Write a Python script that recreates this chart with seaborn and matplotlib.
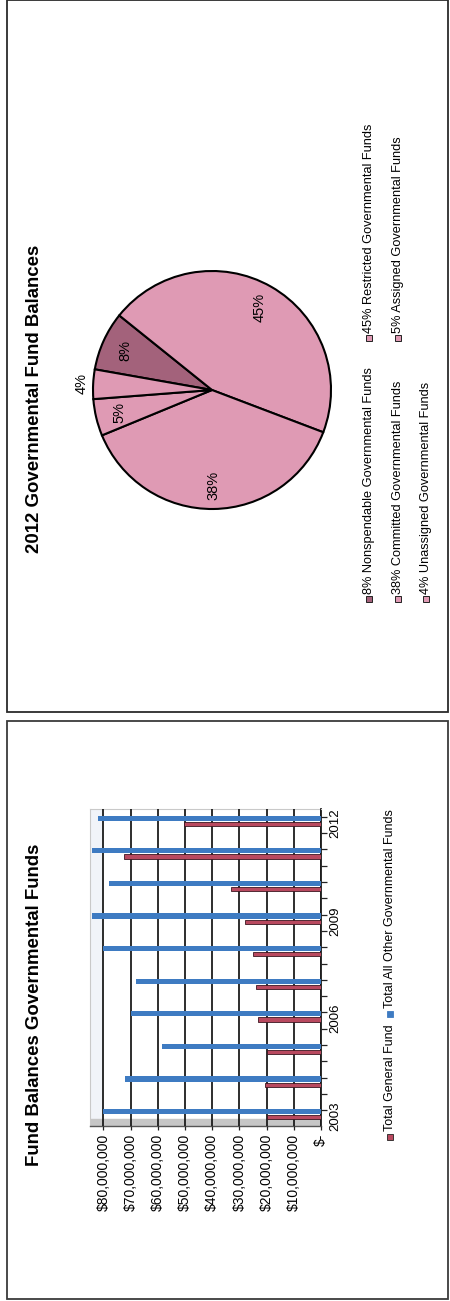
import numpy as np
import pandas as pd
import matplotlib
matplotlib.use("Agg")
import matplotlib.pyplot as plt
from matplotlib.patches import Rectangle
from matplotlib.ticker import FixedLocator, FixedFormatter
import seaborn as sns

# ---- data -------------------------------------------------------------
years = [2003, 2004, 2005, 2006, 2007, 2008, 2009, 2010, 2011, 2012]
general_fund = [20.0e6, 20.6e6, 20.0e6, 23.3e6, 24.0e6, 24.9e6, 27.9e6, 33.2e6, 72.3e6, 50.5e6]
other_funds = [80.0e6, 72.1e6, 58.3e6, 70.0e6, 68.1e6, 80.3e6, 84.3e6, 77.9e6, 84.3e6, 82.1e6]
series_names = ["Total General Fund", "Total All Other Governmental Funds"]
value_ticks = [0, 10e6, 20e6, 30e6, 40e6, 50e6, 60e6, 70e6, 80e6]
labelled_years = [2003, 2006, 2009, 2012]

pie_names = ["Nonspendable", "Restricted", "Committed", "Assigned", "Unassigned"]
pie_shares = [8, 45, 38, 5, 4]

bar_title = "Fund Balances Governmental Funds"
pie_title = "2012 Governmental Fund Balances"

# ---- style ------------------------------------------------------------
sns.set_theme(style="white")
plt.rcParams["font.family"] = ["Liberation Sans", "DejaVu Sans"]
plt.rcParams.update({"text.color": "black", "xtick.color": "black",
                     "ytick.color": "black", "axes.labelcolor": "black"})

RED = "#B9495F"
BLUE = "#3E7BC2"
PINK = "#DF9AB4"
MAUVE = "#A3627B"

W, H = 450, 1301
fig = plt.figure(figsize=(W / 100, H / 100), dpi=100)
fig.patch.set_facecolor("white")


def fx(px):
    return px / W


def fy(py):
    return (H - py) / H


# panel frames
fig.add_artist(Rectangle((fx(7), fy(712)), fx(441), 711.5 / H, transform=fig.transFigure,
                         fill=False, edgecolor="#2b2b2b", linewidth=1.3))
fig.add_artist(Rectangle((fx(7), fy(1299)), fx(441), 578 / H, transform=fig.transFigure,
                         fill=False, edgecolor="#3a3a3a", linewidth=1.3))

# ---- bar chart (reads bottom-to-top) ----------------------------------
df = pd.DataFrame({
    "year": [str(y) for y in years] * 2,
    "fund": [series_names[0]] * len(years) + [series_names[1]] * len(years),
    "value": general_fund + other_funds,
})
order_desc = [str(y) for y in years[::-1]]

ax = fig.add_axes([fx(90), fy(1126), fx(231), 317 / H])
sns.barplot(data=df, x="value", y="year", hue="fund", order=order_desc,
            hue_order=[series_names[1], series_names[0]],
            palette={series_names[0]: RED, series_names[1]: BLUE},
            orient="h", width=0.34, dodge=True, saturation=1, errorbar=None,
            legend=False, ax=ax, zorder=3)

# thinner general-fund bars with a dark rim
for p in ax.containers[1]:
    h = p.get_height()
    p.set_y(p.get_y() + (h - 0.13) / 2)
    p.set_height(0.13)
    p.set_edgecolor("#3b1620")
    p.set_linewidth(0.6)
for p in ax.containers[0]:
    h = p.get_height()
    p.set_y(p.get_y() + (h - 0.16) / 2)
    p.set_height(0.16)
    p.set_linewidth(0)

ax.set_xlim(84.9e6, 0)
ax.set_ylim(9.354, -0.370)
ax.set_xlabel("")
ax.set_ylabel("")

# wall edge and floor
ax.axvspan(84.9e6, 80.6e6, color="#F1F4F9", zorder=0)
ax.axhspan(9.354, 9.14, color="#C6C6C6", zorder=1)

ax.xaxis.grid(True, color="#1c1c1c", linewidth=1.3, zorder=2)
ax.yaxis.grid(False)
ax.set_axisbelow(False)

ax.xaxis.set_major_locator(FixedLocator(value_ticks))
ax.xaxis.set_major_formatter(FixedFormatter(
    ["$-" if v == 0 else "${:,.0f}".format(v) for v in value_ticks]))
ax.tick_params(axis="x", bottom=True, length=3, width=0.9, color="#222222",
               labelcolor="black", pad=2.5, labelsize=10, labelrotation=90)

ax.yaxis.tick_right()
label_pos = [2012 - y + 0.06 for y in labelled_years]
ax.yaxis.set_major_locator(FixedLocator(label_pos))
ax.yaxis.set_major_formatter(FixedFormatter([str(y) for y in labelled_years]))
minor_pos = [2012 - y - 0.13 for y in years] + [2012 - y + 0.37 for y in years]
ax.yaxis.set_minor_locator(FixedLocator(sorted(minor_pos)))
ax.tick_params(axis="y", which="major", right=True, left=False, length=0, pad=6,
               labelsize=9.5, labelrotation=90, labelcolor="black")
ax.tick_params(axis="y", which="minor", right=True, left=False, length=4,
               width=0.9, color="#222222")
for lab in ax.get_yticklabels():
    lab.set_verticalalignment("center")

for side in ("left", "top"):
    ax.spines[side].set_color("#C9C9C9")
    ax.spines[side].set_linewidth(0.8)
ax.spines["right"].set_color("#1a1a1a")
ax.spines["right"].set_linewidth(1.3)
ax.spines["bottom"].set_color("#555555")
ax.spines["bottom"].set_linewidth(1.0)

fig.text(fx(35), fy(1004.5), bar_title, rotation=90, ha="center", va="center",
         fontsize=13.4, fontweight="bold", color="black")

# legend for bar chart
for name, color, start in [(series_names[0], RED, 1137), (series_names[1], BLUE, 1013.5)]:
    fig.add_artist(Rectangle((fx(387), fy(start + 3)), fx(6), 6 / H,
                             transform=fig.transFigure, facecolor=color,
                             edgecolor="#222222" if color == RED else color,
                             linewidth=0.6))
    fig.text(fx(390), fy(start - 6), name, rotation=90, ha="center", va="bottom",
             fontsize=9, color="black")

# ---- pie chart ----------------------------------------------------------
pax = fig.add_axes([fx(93), fy(509), fx(238), 238 / H])
pie_colors = [MAUVE, PINK, PINK, PINK, PINK]
wedges, _ = pax.pie(pie_shares, startangle=170, counterclock=False, colors=pie_colors,
                    wedgeprops=dict(edgecolor="black", linewidth=1.5))
pax.set_xlim(-1, 1)
pax.set_ylim(-1, 1)
pax.set_aspect("equal")

for w, share in zip(wedges, pie_shares):
    mid = np.deg2rad((w.theta1 + w.theta2) / 2)
    r = 1.1 if share == min(pie_shares) else 0.8
    pax.text(r * np.cos(mid), r * np.sin(mid), f"{share}%", rotation=90,
             ha="center", va="center", fontsize=10.5, color="black")

fig.text(fx(35), fy(398.5), pie_title, rotation=90, ha="center", va="center",
         fontsize=13.4, fontweight="bold", color="black")

# legend for pie chart: two columns, three rows
legend_cells = [(369.3, 599), (369.3, 338), (397.7, 599), (397.7, 338), (425.7, 599)]
for (x, y), name, share, color in zip(legend_cells, pie_names, pie_shares, pie_colors):
    fig.add_artist(Rectangle((fx(x - 3), fy(y + 3)), fx(6), 6 / H,
                             transform=fig.transFigure, facecolor=color,
                             edgecolor="#222222", linewidth=0.7))
    fig.text(fx(x), fy(y - 5), f"{share}% {name} Governmental Funds", rotation=90,
             ha="center", va="bottom", fontsize=9.2, color="black")

fig.savefig("out.png", dpi=100, facecolor="white")
